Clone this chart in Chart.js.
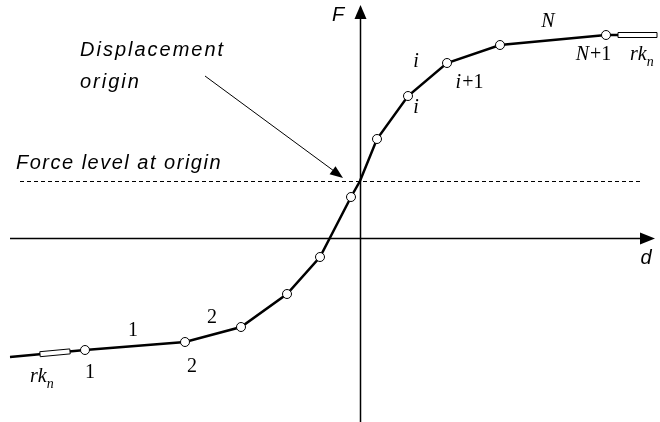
<!DOCTYPE html>
<html>
<head>
<meta charset="utf-8">
<script src="https://cdn.jsdelivr.net/npm/chart.js@4"></script>
<style>
  html, body { margin: 0; padding: 0; background: #fff; }
  #curveCanvas { display: block; }
</style>
</head>
<body>
<canvas id="curveCanvas" width="660" height="422"></canvas>
<script>
// curve vertices (displacement d, force F), origin at the axes crossing
const dVals = [-35.0, -27.5, -17.5, -11.9, -7.3, -4.0, -0.9, 0.0, 1.7, 4.8, 8.7, 14.0, 24.6, 29.7];
const fVals = [-11.9, -11.2, -10.4, -8.9, -5.6, -1.9, 4.1, 5.7, 9.9, 14.2, 17.5, 19.3, 20.3, 20.3];
const markerRadius = [0, 4.5, 4.5, 4.5, 4.5, 4.5, 4.5, 0, 4.5, 4.5, 4.5, 4.5, 4.5, 0];
const forceAtOrigin = 5.7;

// rk_n end stubs (d ranges along the curve)
const stubFrom = [-32.0, 25.8];
const stubTo = [-29.0, 29.7];

// text labels: main part (italic or not) + upright suffix
const labelText = ["1", "1", "2", "2", "i", "i", "i", "N", "N"];
const labelSuffix = ["", "", "", "", "", "", "+1", "", "+1"];
const labelD = [-22.7, -27.0, -16.8, -14.8, 5.6, 5.6, 10.9, 18.8, 23.3];
const labelF = [-9.3, -13.5, -12.9, -8.0, 17.6, 13.0, 15.5, 21.6, 18.3];
const labelItalic = [false, false, false, false, true, true, true, true, true];

function fAt(d) {
    for (let k = 0; k < dVals.length - 1; k++) {
        if (d >= dVals[k] && d <= dVals[k + 1]) {
            const t = (d - dVals[k]) / (dVals[k + 1] - dVals[k]);
            return fVals[k] + t * (fVals[k + 1] - fVals[k]);
        }
    }
    return fVals[fVals.length - 1];
}

function arrowHead(ctx, x, y, angle, len, half) {
    ctx.save();
    ctx.translate(x, y);
    ctx.rotate(angle);
    ctx.beginPath();
    ctx.moveTo(0, 0);
    ctx.lineTo(-len, -half);
    ctx.lineTo(-len, half);
    ctx.closePath();
    ctx.fill();
    ctx.restore();
}

const sketchPlugin = {
    id: "sketch",
    beforeDatasetsDraw(chart) {
        const ctx = chart.ctx;
        const xs = chart.scales.x, ys = chart.scales.y;
        const x0 = Math.round(xs.getPixelForValue(0)) + 0.5;
        const y0 = Math.round(ys.getPixelForValue(0)) + 0.5;
        const yo = Math.round(ys.getPixelForValue(forceAtOrigin)) + 0.5;
        ctx.save();
        ctx.strokeStyle = "#000";
        ctx.fillStyle = "#000";
        // dashed force level
        ctx.lineWidth = 1;
        ctx.setLineDash([4, 3]);
        ctx.beginPath();
        ctx.moveTo(20, yo);
        ctx.lineTo(640, yo);
        ctx.stroke();
        ctx.setLineDash([]);
        // axes
        ctx.lineWidth = 1.5;
        ctx.beginPath();
        ctx.moveTo(10, y0);
        ctx.lineTo(642, y0);
        ctx.moveTo(x0, 422);
        ctx.lineTo(x0, 16);
        ctx.stroke();
        arrowHead(ctx, 655, y0, 0, 15, 6);
        arrowHead(ctx, x0, 5, -Math.PI / 2, 14, 6);
        // pointer to displacement origin
        ctx.lineWidth = 1;
        ctx.beginPath();
        ctx.moveTo(205, 76);
        ctx.lineTo(334, 171);
        ctx.stroke();
        arrowHead(ctx, 343, 178, Math.atan2(102, 138), 13, 5);
        ctx.restore();
    },
    afterDatasetsDraw(chart) {
        const ctx = chart.ctx;
        const xs = chart.scales.x, ys = chart.scales.y;
        ctx.save();
        // rk_n stubs drawn as hollow bands on the curve
        ctx.strokeStyle = "#000";
        ctx.fillStyle = "#fff";
        ctx.lineWidth = 1;
        for (let s = 0; s < stubFrom.length; s++) {
            const ax = xs.getPixelForValue(stubFrom[s]), ay = ys.getPixelForValue(fAt(stubFrom[s]));
            const bx = xs.getPixelForValue(stubTo[s]), by = ys.getPixelForValue(fAt(stubTo[s]));
            const len = Math.hypot(bx - ax, by - ay);
            const nx = -(by - ay) / len * 2.5, ny = (bx - ax) / len * 2.5;
            ctx.beginPath();
            ctx.moveTo(ax + nx, ay + ny);
            ctx.lineTo(bx + nx, by + ny);
            ctx.lineTo(bx - nx, by - ny);
            ctx.lineTo(ax - nx, ay - ny);
            ctx.closePath();
            ctx.fill();
            ctx.stroke();
        }
        ctx.fillStyle = "#000";
        ctx.textBaseline = "middle";
        ctx.textAlign = "left";
        const mainFont = k => (labelItalic[k] ? "italic " : "") + "20px 'Liberation Serif'";
        for (let k = 0; k < labelText.length; k++) {
            ctx.font = mainFont(k);
            const w1 = ctx.measureText(labelText[k]).width;
            ctx.font = "20px 'Liberation Serif'";
            const w2 = ctx.measureText(labelSuffix[k]).width;
            const left = xs.getPixelForValue(labelD[k]) - (w1 + w2) / 2;
            const y = ys.getPixelForValue(labelF[k]);
            ctx.font = mainFont(k);
            ctx.fillText(labelText[k], left, y);
            ctx.font = "20px 'Liberation Serif'";
            ctx.fillText(labelSuffix[k], left + w1 + 1, y);
        }
        // rk_n labels
        const rkPos = [[30, 377], [630, 55]];
        rkPos.forEach(p => {
            ctx.font = "italic 20px 'Liberation Serif'";
            ctx.fillText("rk", p[0], p[1]);
            const w = ctx.measureText("rk").width;
            ctx.font = "italic 14px 'Liberation Serif'";
            ctx.fillText("n", p[0] + w, p[1] + 7);
        });
        // axis names and notes
        ctx.font = "italic 20px 'Liberation Sans'";
        ctx.textAlign = "center";
        ctx.fillText("F", 338, 15);
        ctx.fillText("d", 646, 258);
        ctx.textAlign = "left";
        ctx.letterSpacing = "2px";
        ctx.fillText("Displacement", 80, 50);
        ctx.fillText("origin", 80, 82);
        ctx.letterSpacing = "1.5px";
        ctx.fillText("Force level at origin", 16, 163);
        ctx.restore();
    }
};

const curveCanvas = document.getElementById("curveCanvas");
const curveChart = new Chart(curveCanvas, {
    type: "scatter",
    data: {
        datasets: [{
            data: dVals.map((d, k) => ({ x: d, y: fVals[k] })),
            showLine: true,
            borderColor: "#000",
            borderWidth: 2.5,
            pointRadius: markerRadius,
            pointBackgroundColor: "#fff",
            pointBorderColor: "#000",
            pointBorderWidth: 1,
            tension: 0
        }]
    },
    options: {
        responsive: false,
        devicePixelRatio: 1,
        animation: false,
        layout: { padding: 0 },
        plugins: { legend: { display: false }, tooltip: { enabled: false } },
        scales: {
            x: { type: "linear", min: -36.0, max: 30.0, display: false },
            y: { type: "linear", min: -18.4, max: 23.8, display: false }
        }
    },
    plugins: [sketchPlugin]
});
</script>
</body>
</html>
